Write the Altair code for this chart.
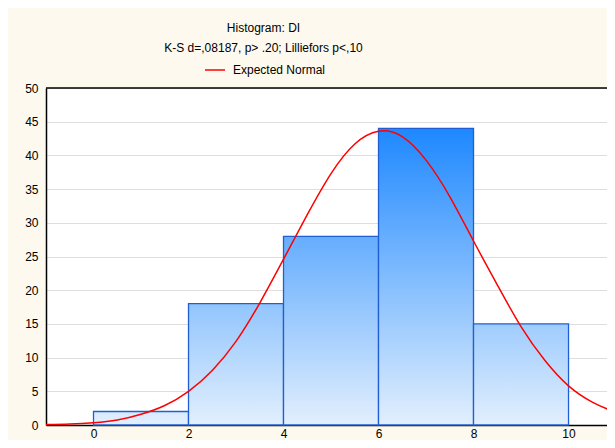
import altair as alt
import pandas as pd

# ---- data ----
bin_start = [0, 2, 4, 6, 8]
bin_end = [2, 4, 6, 8, 10]
counts = [2, 18, 28, 44, 15]

curve_x = [-1, -0.5, 0, 0.5, 1, 1.5, 2, 2.5, 3, 3.5, 4, 4.5, 5, 5.5, 6,
           6.5, 7, 7.5, 8, 8.5, 9, 9.5, 10, 10.5, 11, 11.5, 12]
curve_y = [0.06, 0.15, 0.34, 0.74, 1.6, 2.9, 5.0, 8.1, 12.4, 18.1, 24.6, 31.2,
           37.3, 41.7, 43.6, 42.8, 39.3, 33.9, 27.3, 20.8, 14.6, 9.6, 5.8, 3.4,
           1.9, 0.98, 0.47]

title_lines = ["Histogram: DI", "K-S d=,08187, p> .20; Lilliefors p<,10"]
legend_label = "Expected Normal"
x_ticks = [0, 2, 4, 6, 8, 10]
y_ticks = [0, 5, 10, 15, 20, 25, 30, 35, 40, 45, 50]

FONT = "Liberation Sans"

bars_df = pd.DataFrame({"start": bin_start, "end": bin_end, "count": counts})
curve_df = pd.DataFrame({"x": curve_x, "y": curve_y, "s": [legend_label] * len(curve_x)})
frame_df = pd.DataFrame({"top": [max(y_ticks)]})

xscale = alt.Scale(domain=[-1, 10.81], nice=False, zero=False)
yscale = alt.Scale(domain=[0, 50], nice=False)

xaxis = alt.Axis(values=x_ticks, title=None, grid=False, ticks=False,
                 domainColor="black", domainWidth=1.5, labelPadding=3,
                 labelFont=FONT, labelFontSize=12, labelColor="black")
yaxis = alt.Axis(values=y_ticks, title=None, grid=True, gridColor="#DEDEDE",
                 gridWidth=1.2, ticks=False, domainColor="black", domainWidth=1.5,
                 labelPadding=8, labelFont=FONT, labelFontSize=12, labelColor="black")

bottom_rgb = (226, 239, 253)
top_rgb = (30, 136, 255)
vmax = 44.0


def mix(v):
    t = max(0.0, min(1.0, v / vmax))
    r, g, b = (round(bottom_rgb[k] + (top_rgb[k] - bottom_rgb[k]) * t) for k in range(3))
    return f"#{r:02x}{g:02x}{b:02x}"


layers = []
for s, c in zip(bin_start, counts):
    grad = alt.Gradient(
        gradient="linear", x1=0, x2=0, y1=1, y2=0,
        stops=[alt.GradientStop(color=mix(0), offset=0),
               alt.GradientStop(color=mix(c), offset=1)],
    )
    layers.append(
        alt.Chart(bars_df)
        .transform_filter(alt.datum.start == s)
        .mark_rect(fill=grad, stroke="#1F5FD3", strokeWidth=1.3)
        .encode(
            x=alt.X("start:Q", scale=xscale, axis=xaxis),
            x2="end:Q",
            y=alt.Y("count:Q", scale=yscale, axis=yaxis),
            y2=alt.datum(0),
        )
    )

frame = alt.Chart(frame_df).mark_rule(color="black", strokeWidth=1.5).encode(
    y=alt.Y("top:Q", scale=yscale, axis=yaxis)
)

line = alt.Chart(curve_df).mark_line(clip=True, strokeWidth=1.5, interpolate="natural").encode(
    x=alt.X("x:Q", scale=xscale, axis=xaxis),
    y=alt.Y("y:Q", scale=yscale, axis=yaxis),
    color=alt.Color(
        "s:N",
        scale=alt.Scale(domain=[legend_label], range=["#FF0000"]),
        legend=alt.Legend(
            title=None, orient="none", legendX=158, legendY=-29,
            symbolType="stroke", symbolSize=400, symbolStrokeWidth=1.5,
            labelFont=FONT, labelFontSize=12, labelColor="black",
            labelOffset=7, padding=0,
        ),
    ),
)

chart = (
    alt.layer(*layers, line, frame)
    .properties(
        width=561,
        height=337,
        autosize=alt.AutoSizeParams(type="none"),
        padding={"left": 38, "top": 80, "right": 0, "bottom": 15},
        background="#FDF9EE",
        title=alt.TitleParams(
            text=title_lines, font=FONT, fontSize=12, fontWeight="normal",
            color="black", anchor="middle", dx=-63, lineHeight=20, offset=4,
        ),
    )
    .configure_view(fill="white", stroke=None)
)

chart.save("out.html", embed_options={"renderer": "svg", "actions": False})
